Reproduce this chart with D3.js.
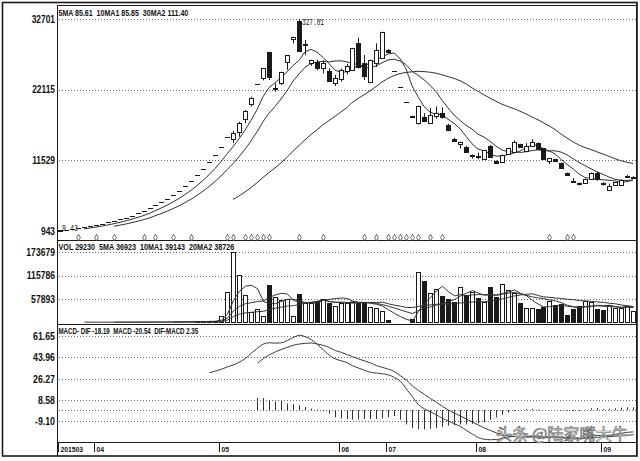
<!DOCTYPE html>
<html><head><meta charset="utf-8">
<script src="https://cdn.jsdelivr.net/npm/d3@7"></script>
<style>body{margin:0;background:#fff}svg{display:block}</style>
</head><body><svg id="c" width="640" height="461"></svg>
<script>
// ---------------- data ----------------
const monthLabels = ["201503","04","05","06","07","08","09"];
const monthStartIdx = [0,6,27,47,55,70,91];

const opens = [9.43,11.41,12.55,13.81,15.19,16.71,18.38,20.22,22.24,24.46,26.91,29.60,32.56,35.82,39.40,43.34,47.67,52.44,57.68,63.45,69.80,76.78,84.46,92.90,102.19,112.41,123.65,136.01,149.61,
147.2,158.1,177.2,199.1,230.0,238.0,277.9,223.6,230.6,263.0,296.6,324.0,288.0,260.6,263.0,253.0,249.5,230.6,237.0,249.0,250.6,290.6,261.5,233.0,260.6,268.0,
280.0,249.5,224.5,202.1,182.3,171.2,180.6,171.6,182.0,185.7,168.2,146.5,139.3,135.6,123.0,122.5,116.8,136.7,114.7,113.2,124.8,128.2,139.3,129.7,137.2,140.8,
133.3,114.7,116.8,111.7,96.0,84.5,81.8,80.9,87.3,97.0,82.0,70.5,78.3,79.0,90.5,89.8];
const highs = [10.37,11.41,12.55,13.81,15.19,16.71,18.38,20.22,22.24,24.46,26.91,29.60,32.56,35.82,39.40,43.34,47.67,52.44,57.68,63.45,69.80,76.78,84.46,92.90,102.19,112.41,123.65,136.01,149.61,
159.2,173.1,190.7,210.6,230.0,253.0,278.0,230.6,248.0,273.0,300.5,327.01,295.5,266.0,266.0,265.6,253.0,243.0,253.0,260.0,283.0,299.0,273.0,266.0,290.6,308.0,
282.0,249.5,224.5,202.1,182.3,197.0,186.0,193.7,196.0,194.7,170.0,149.0,143.3,137.0,124.0,126.7,131.0,138.0,115.0,124.0,134.0,145.0,140.0,141.0,146.8,142.0,
134.0,118.5,117.5,112.0,97.0,88.4,82.0,88.0,97.0,98.0,82.5,80.5,82.8,87.0,93.5,91.5];
const lows = [9.43,11.41,12.55,13.81,15.19,16.71,18.38,20.22,22.24,24.46,26.91,29.60,32.56,35.82,39.40,43.34,47.67,52.44,57.68,63.45,69.80,76.78,84.46,92.90,102.19,112.41,123.65,136.01,149.61,
141.2,150.6,170.8,196.0,230.0,235.0,235.6,218.0,228.0,250.6,290.6,279.0,273.0,257.0,250.0,245.6,233.0,226.6,233.0,244.0,250.0,253.0,235.6,233.0,255.0,268.0,
277.0,249.5,224.5,202.1,181.9,169.0,173.0,170.0,178.0,178.0,159.0,144.6,133.0,127.0,118.0,116.8,116.0,119.0,111.0,113.0,124.0,127.0,134.0,129.0,137.0,131.0,
116.5,110.0,114.0,103.0,92.9,84.0,77.5,80.5,87.0,84.5,77.5,70.0,78.0,78.5,90.0,89.0];
const closes = [10.37,11.41,12.55,13.81,15.19,16.71,18.38,20.22,22.24,24.46,26.91,29.60,32.56,35.82,39.40,43.34,47.67,52.44,57.68,63.45,69.80,76.78,84.46,92.90,102.19,112.41,123.65,136.01,149.61,
156.2,171.6,189.2,209.1,230.0,253.0,240.5,224.3,248.0,273.0,300.5,279.5,289.0,265.6,253.0,260.6,234.0,238.0,250.6,256.6,283.0,255.6,241.6,265.6,280.6,308.0,
277.2,249.5,224.5,202.1,181.9,196.0,174.6,183.2,185.5,180.0,160.7,144.7,143.3,128.2,123.5,121.8,130.7,120.7,111.7,123.3,133.3,143.2,134.8,137.2,143.2,131.8,
116.8,118.3,114.7,103.2,93.0,84.2,79.5,87.8,96.9,86.7,79.55,76.5,82.5,86.5,92.0,90.55];
const volumes = [900,300,250,300,350,300,400,350,450,400,500,450,550,500,600,650,700,800,900,1000,1200,1500,1800,2200,2600,3000,3800,
15700,75300,173679,117500,66600,25600,33000,15700,92700,63600,55400,57900,15700,70300,48000,48000,52900,57900,48700,41300,48700,48000,51200,50400,48000,38800,35500,28800,
5700,500,400,600,8200,125700,102600,72100,82000,65400,57200,51200,88500,67800,76000,59600,51200,88500,63600,95200,80300,72100,
48800,34600,34600,33900,38900,52800,42100,46300,17300,33790,40000,52500,51000,33500,29815,44000,36000,36000,39385,29230];

const difValues = [null,null,null,null,null,null,null,null,null,null,null,null,null,null,null,null,null,null,null,null,null,null,null,null,null,
31,32.5,34,36,37.6,40,43,47.5,51.5,55,56,55.7,56,58,60.5,62.3,61,58.5,54.5,50,45.5,42.5,41,39.3,37,35,33,31.5,30.8,30.2,29.3,27,23.8,17.5,11,4.5,1,-1.5,-4,-7,-9,-11.5,-13.6,-17,-20,-23,-24.3,-24.7,-24.5,-23.5,-22.5,-22,-22,-21.8,-21.5,-21.8,-22.5,-22.5,-22.5,-23,-23.5,-24,-24,-23,-21.5,-21,-21.5,-21,-20.2,-19.3,-18.5,-18.19];
const deaValues = [null,null,null,null,null,null,null,null,null,null,null,null,null,null,null,null,null,null,null,null,null,null,null,null,null,null,null,null,null,null,null,null,null,
39,43,46,48.5,50.5,52.3,54,55,55.6,55.8,55,53.8,52,49.5,48,46,44.5,42.5,41,39.3,37,35.5,34,32,28.5,25,20,16.3,13,9.5,6.5,3,0,-2.5,-5,-7.5,-10,-12.5,-15,-17,-19,-20.5,-21.5,-22,-22.3,-22.5,-22.5,-22.5,-22.6,-22.6,-22.6,-22.7,-22.9,-23.1,-23.3,-23.2,-22.9,-22.6,-22.4,-22.1,-21.7,-21.3,-20.9,-20.54];
const macdHist = [null,null,null,null,null,null,null,null,null,null,null,null,null,null,null,null,null,null,null,null,null,null,null,null,null,null,null,null,null,null,null,null,null,
10,10,8.5,7,7.5,5.5,5,4,2.5,1.2,0.5,-1,-3,-6,-7,-7.5,-8,-8,-7.5,-7.5,-7.5,-7,-6,-5,-8,-12,-15,-16,-16,-15.5,-15,-14,-13,-12.5,-12,-12,-11.5,-11,-10,-8,-6,-4,-2,-1,0.3,0.7,1,0.7,0.1,0.1,0.1,-0.3,-0.6,-0.9,-0.7,0.2,1.4,1.6,0.9,1.1,1.5,2,2.4,2.35];

const signalIdx = [3,6,9,14,16,19,22,28,29,31,32,33,34,35,40,44,51,53,55,56,57,58,59,60,62,64,82,85,86];

const priceTickLabels = ["32701","22115","11529","943"];
const priceTickValues = [327.01,221.15,115.29,9.43];
const volTickValues = [173679,115786,57893];
const macdTickValues = [61.65,43.96,26.27,8.58,-9.10];
const macdZero = [0];

const priceHeader = "5MA 85.61  10MA1 85.85  30MA2 111.40";
const volHeader = "VOL 29230  5MA 36923  10MA1 39143  20MA2 38726";
const macdHeader = "MACD- DIF -18.19  MACD -20.54  DIF-MACD 2.35";
const highLabel = "327.01", lowLabel = "9.43";
const watermark = "头条 @陆家嘴大牛";

// ---------------- helpers ----------------
function sma(arr, n) {
  return arr.map((v, i) => i < n - 1 ? null : d3.mean(arr.slice(i - n + 1, i + 1)));
}
const svg = d3.select("#c");
const FONT = "'Liberation Sans', Arial, sans-serif";
function txt(g, x, y, s, o = {}) {
  const t = g.append("text").attr("font-family", o.family || FONT)
    .attr("font-size", o.size || 10).attr("font-weight", o.weight || "bold")
    .attr("text-anchor", o.anchor || "start").attr("fill", o.fill || "#111")
    .style("white-space", "pre")
    .attr("dominant-baseline", o.baseline || "auto").text(s);
  let sx = o.sx || 1;
  if (o.width) { const w = t.node().getComputedTextLength(); sx = o.width / w; }
  t.attr("transform", `translate(${x},${y}) scale(${sx},1)`);
  if (o.stroke) t.attr("stroke", o.stroke).attr("stroke-width", o.sw || 0.7);
  return t;
}

// ---------------- layout ----------------
const L = 57, R = 636;
const x = d3.scaleBand().domain(d3.range(closes.length)).range([L, R]);
const xc = i => Math.round(x(i) + x.bandwidth() / 2);
const yP = d3.scaleLinear().domain([9.43, 327.01]).range([231, 19]);
const yV = d3.scaleLinear().domain([0, 173679]).range([322.3, 252.3]);
const yM = d3.scaleLinear().domain([-9.10, 61.65]).range([421, 336]);

const ink = "#1a1a1a";
// outer frame
svg.append("rect").attr("x", 2.5).attr("y", 2.5).attr("width", 634.5).attr("height", 453.5)
  .attr("fill", "none").attr("stroke", ink).attr("stroke-width", 1.6);
const frame = svg.append("g").attr("stroke", ink).attr("stroke-width", 1);
frame.append("line").attr("x1", L).attr("x2", R).attr("y1", 5.5).attr("y2", 5.5);
frame.append("line").attr("x1", L + 0.5).attr("x2", L + 0.5).attr("y1", 5).attr("y2", 456);
frame.append("line").attr("x1", R + 0.5).attr("x2", R + 0.5).attr("y1", 3).attr("y2", 456);
[240.5, 324.5, 442.5].forEach(y => frame.append("line").attr("x1", L).attr("x2", R).attr("y1", y).attr("y2", y));

// grid lines
const grid = svg.append("g").attr("stroke", "#666").attr("stroke-width", 1).attr("stroke-dasharray", "1,2");
priceTickValues.filter(v => yP(v) < 225).forEach(v => grid.append("line").attr("x1", L + 2).attr("x2", R).attr("y1", Math.round(yP(v)) + 0.5).attr("y2", Math.round(yP(v)) + 0.5));
volTickValues.forEach(v => grid.append("line").attr("x1", L + 2).attr("x2", R).attr("y1", Math.round(yV(v)) + 0.5).attr("y2", Math.round(yV(v)) + 0.5));
macdTickValues.concat(macdZero).forEach(v => grid.append("line").attr("x1", L + 2).attr("x2", R).attr("y1", Math.round(yM(v)) + 0.5).attr("y2", Math.round(yM(v)) + 0.5));

// axis labels
const lab = svg.append("g");
priceTickLabels.forEach((s, k) => txt(lab, 55, yP(priceTickValues[k]) + 0.5, s, { anchor: "end", baseline: "central", size: 10, sx: 0.84 }));
volTickValues.forEach(v => txt(lab, 55, yV(v) + 0.5, String(v), { anchor: "end", baseline: "central", size: 10, sx: 0.86 }));
macdTickValues.forEach(v => txt(lab, 55, yM(v) + 0.5, v.toFixed(2), { anchor: "end", baseline: "central", size: 10, sx: 0.88 }));

// headers
txt(lab, 58.5, 15.5, priceHeader, { size: 8.5, width: 130 });
txt(lab, 58.5, 250, volHeader, { size: 8.5, width: 176 });
txt(lab, 58.5, 334, macdHeader, { size: 8.5, width: 140 });

// month ticks
const mt = svg.append("g");
monthStartIdx.forEach((idx, k) => {
  const tx = xc(idx) - 1.5;
  mt.append("line").attr("x1", tx).attr("x2", tx).attr("y1", 442).attr("y2", 452).attr("stroke", ink);
  txt(mt, tx + 2, 451.5, monthLabels[k], { size: 8, sx: 0.85 });
});

// ---------------- price panel ----------------
const lineP = d3.line().defined(d => d.v != null).x(d => xc(d.i)).y(d => yP(d.v));
const maG = svg.append("g").attr("fill", "none").attr("stroke", "#333").attr("stroke-width", 1);
[5, 10, 30].forEach(n => {
  const m = sma(closes, n).map((v, i) => ({ i, v }));
  maG.append("path").attr("d", lineP(m));
});

const idx = d3.range(closes.length);
const cg = svg.append("g");
idx.forEach(i => {
  const o = opens[i], c = closes[i], h = highs[i], l = lows[i];
  const cx = xc(i);
  const up = c >= o;
  if (h > l) cg.append("line").attr("x1", cx + 0.5).attr("x2", cx + 0.5)
    .attr("y1", yP(h)).attr("y2", yP(l)).attr("stroke", ink);
  if (o === c) {
    cg.append("line").attr("x1", cx - 2).attr("x2", cx + 3).attr("y1", Math.round(yP(c)) + 0.5).attr("y2", Math.round(yP(c)) + 0.5).attr("stroke", ink);
  } else {
    const top = Math.round(yP(Math.max(o, c))), bot = Math.round(yP(Math.min(o, c)));
    cg.append("rect").attr("x", cx - 1.5).attr("y", top + 0.5).attr("width", 4).attr("height", Math.max(1, bot - top))
      .attr("fill", up ? "#fff" : ink).attr("stroke", ink).attr("stroke-width", 1);
  }
});

// signal diamonds
const sym = d3.symbol(d3.symbolDiamond, 12);
svg.append("g").selectAll("path").data(signalIdx).join("path")
  .attr("transform", i => `translate(${xc(i) + 0.5},237.5)`).attr("d", sym)
  .attr("fill", "#fff").attr("stroke", "#444").attr("stroke-width", 0.8);

// high / low labels
const hiI = highs.indexOf(d3.max(highs)), loI = lows.indexOf(d3.min(lows));
txt(lab, xc(hiI) + 3, yP(highs[hiI]) + 6, highLabel, { family: "'Liberation Mono', monospace", weight: "normal", size: 8.5, width: 22 });
txt(lab, xc(loI) + 2, yP(lows[loI]) - 0.5, lowLabel, { family: "'Liberation Mono', monospace", weight: "normal", size: 9, width: 16 });

// ---------------- volume panel ----------------
const vg = svg.append("g");
idx.forEach(i => {
  const up = closes[i] >= opens[i];
  const top = Math.round(yV(volumes[i])), bot = Math.round(yV(0));
  vg.append("rect").attr("x", xc(i) - 1.5).attr("y", top + 0.5).attr("width", 4).attr("height", Math.max(0, bot - top))
    .attr("fill", up ? "#fff" : ink).attr("stroke", ink).attr("stroke-width", 1);
});
const lineV = d3.line().defined(d => d.v != null).x(d => xc(d.i) + 0.5).y(d => yV(d.v));
const vmaG = svg.append("g").attr("fill", "none").attr("stroke", "#333").attr("stroke-width", 1);
[5, 10, 20].forEach(n => {
  vmaG.append("path").attr("d", lineV(sma(volumes, n).map((v, i) => ({ i, v }))));
});

// ---------------- MACD panel ----------------
const hg = svg.append("g").attr("stroke", "#333").attr("stroke-width", 1);
idx.filter(i => macdHist[i] != null).forEach(i => {
  hg.append("line").attr("x1", xc(i) + 0.5).attr("x2", xc(i) + 0.5).attr("y1", yM(0)).attr("y2", yM(macdHist[i]));
});
const lineM = d3.line().defined(d => d.v != null).x(d => xc(d.i) + 0.5).y(d => yM(d.v)).curve(d3.curveMonotoneX);
const mg = svg.append("g").attr("fill", "none").attr("stroke", "#3a3a3a").attr("stroke-width", 1);
mg.append("path").attr("d", lineM(difValues.map((v, i) => ({ i, v }))));
mg.append("path").attr("d", lineM(deaValues.map((v, i) => ({ i, v }))));

// watermark
txt(svg, 496, 439.5, watermark, { family: "'Noto Sans CJK SC', sans-serif", weight: "normal", size: 16, width: 132, fill: "#fff", stroke: "#555", sw: 0.6 });
</script>
</body></html>
